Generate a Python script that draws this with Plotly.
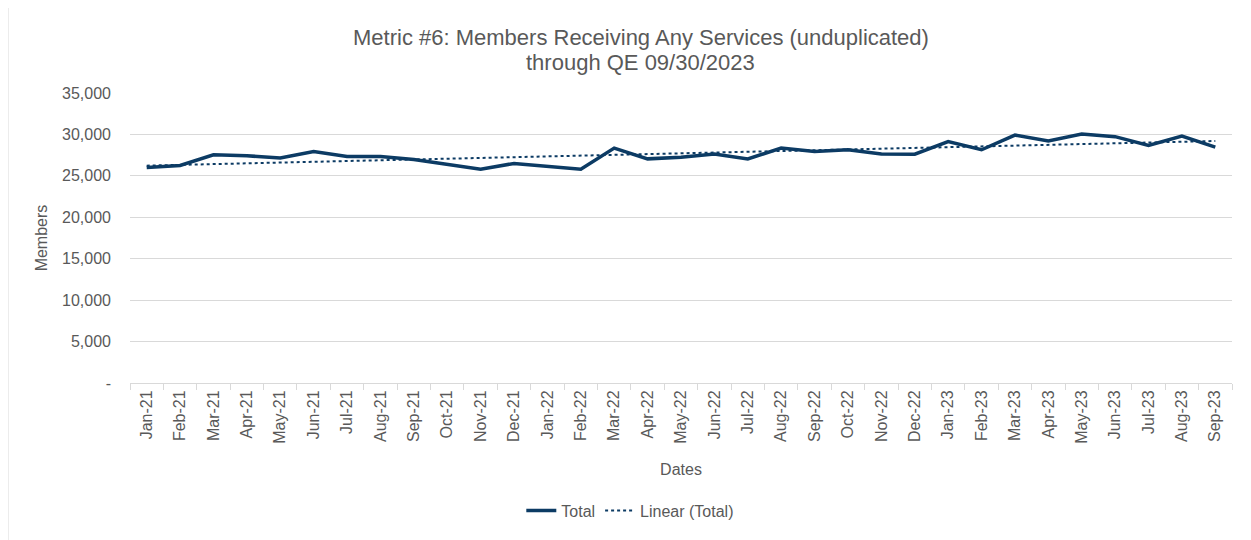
import numpy as np
import plotly.graph_objects as go

months = ['Jan-21', 'Feb-21', 'Mar-21', 'Apr-21', 'May-21', 'Jun-21', 'Jul-21', 'Aug-21',
          'Sep-21', 'Oct-21', 'Nov-21', 'Dec-21', 'Jan-22', 'Feb-22', 'Mar-22', 'Apr-22',
          'May-22', 'Jun-22', 'Jul-22', 'Aug-22', 'Sep-22', 'Oct-22', 'Nov-22', 'Dec-22',
          'Jan-23', 'Feb-23', 'Mar-23', 'Apr-23', 'May-23', 'Jun-23', 'Jul-23', 'Aug-23',
          'Sep-23']
total = [26000, 26250, 27550, 27420, 27170, 27950, 27350, 27350,
         26970, 26340, 25790, 26500, 26180, 25790, 28350, 27050,
         27250, 27640, 27050, 28350, 27950, 28150, 27640, 27620,
         29140, 28150, 29920, 29210, 30040, 29730, 28660, 29810,
         28470]
ytick_vals = [0, 5000, 10000, 15000, 20000, 25000, 30000, 35000]
ytick_text = ['-', '5,000', '10,000', '15,000', '20,000', '25,000', '30,000', '35,000']
title_lines = ['Metric #6: Members Receiving Any Services (unduplicated)',
               'through QE 09/30/2023']

# linear trendline (least squares, like Excel's "Linear" trend)
idx = np.arange(len(total))
slope, intercept = np.polyfit(idx, total, 1)
trend = slope * idx + intercept

navy = '#0c3b64'
grey = '#595959'
light = '#d9d9d9'

fig = go.Figure()
fig.add_trace(go.Scatter(
    x=months, y=total, name='Total', mode='lines',
    line=dict(color=navy, width=3.5)
))
fig.add_trace(go.Scatter(
    x=months, y=trend, name='Linear (Total)', mode='lines',
    line=dict(color=navy, width=2, dash='dot')
))

# page has an 8px body margin, so the figure is a bit smaller and shifted
fig.update_layout(
    width=1243, height=532,
    margin=dict(l=122, r=19, t=85, b=152),
    paper_bgcolor='white', plot_bgcolor='white',
    font=dict(family='Liberation Sans, Arial, sans-serif', color=grey, size=16),
    legend=dict(orientation='h', x=0.454, xanchor='center', y=-0.44, yanchor='middle',
                font=dict(size=16, color=grey)),
    showlegend=True,
)

# two title lines as annotations to get the tight line spacing
for txt, yy in zip(title_lines, [1.19, 1.105]):
    fig.add_annotation(text=txt, xref='paper', yref='paper', x=0.4637, y=yy,
                       xanchor='center', yanchor='middle', showarrow=False,
                       font=dict(size=22, color=grey))

fig.update_xaxes(
    type='category', range=[-0.5, len(months) - 0.5], automargin=False,
    tickangle=-90, tickson='boundaries', ticks='outside', ticklen=6,
    tickcolor=light, showline=True, linecolor=light, linewidth=1,
    showgrid=False, tickfont=dict(size=16, color=grey),
    title=dict(text='Dates', font=dict(size=16, color=grey), standoff=21)
)
fig.update_yaxes(
    range=[0, 35000], tickvals=ytick_vals, ticktext=ytick_text, automargin=False,
    showgrid=True, gridcolor=light, zeroline=False,
    tickfont=dict(size=16, color=grey), ticks='', ticklabelstandoff=18,
    title=dict(text='Members', font=dict(size=16, color=grey), standoff=10)
)

# chart border like the source
fig.add_shape(type='rect', xref='paper', yref='paper',
              x0=-0.1107, x1=1.0155, y0=-0.6, y1=1.308,
              line=dict(color=light, width=1))

fig.write_html("out.html")
